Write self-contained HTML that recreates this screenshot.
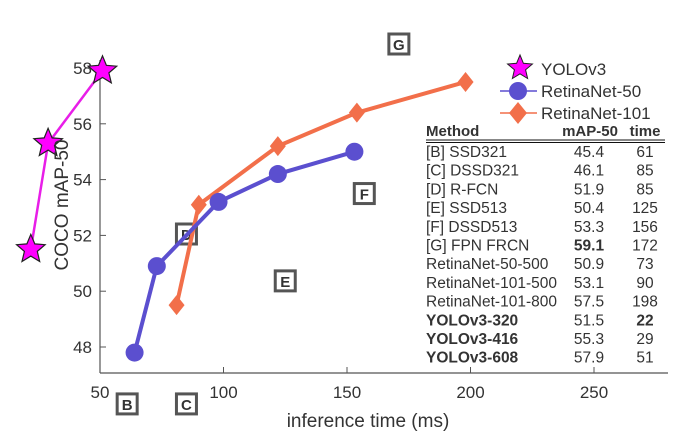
<!DOCTYPE html>
<html><head><meta charset="utf-8"><style>
body{margin:0;background:#fff;}
svg text{font-family:"Liberation Sans",sans-serif;fill:#333;}
</style></head><body>
<svg width="700" height="441">
<g id="axes"></g>
<g id="marks"></g>
<g id="table"></g>
<text transform="translate(68,205) rotate(-90)" text-anchor="middle" font-size="19">COCO mAP-50</text>
<text x="368" y="427" text-anchor="middle" font-size="19">inference time (ms)</text>
</svg>
<script>
const xTicks=[50,100,150,200,250];
const yTicks=[48,50,52,54,56,58];
const yoloX=[22,29,51], yoloY=[51.5,55.3,57.9];
const r50X=[64,73,98,122,153], r50Y=[47.8,50.9,53.2,54.2,55.0];
const r101X=[81,90,122,154,198], r101Y=[49.5,53.1,55.2,56.4,57.5];
const boxLabels=['B','C','D','E','F','G'];
const boxX=[61,85,85,125,157,171];
const boxY=[45.96,45.96,52.05,50.37,53.5,58.86];
const tMethods=['[B] SSD321','[C] DSSD321','[D] R-FCN','[E] SSD513','[F] DSSD513','[G] FPN FRCN','RetinaNet-50-500','RetinaNet-101-500','RetinaNet-101-800','YOLOv3-320','YOLOv3-416','YOLOv3-608'];
const tMap=['45.4','46.1','51.9','50.4','53.3','59.1','50.9','53.1','57.5','51.5','55.3','57.9'];
const tTime=['61','85','85','125','156','172','73','90','198','22','29','51'];
const NS='http://www.w3.org/2000/svg';
const X=v=>100+(v-50)*2.47, Y=v=>347-(v-48)*27.9;
function mk(p,t,a){const e=document.createElementNS(NS,t);for(const k in a)e.setAttribute(k,a[k]);p.appendChild(e);return e;}
const ax=document.getElementById('axes'),mk_=document.getElementById('marks'),tb=document.getElementById('table');
let l=mk(ax,'line',{x1:100,y1:60,x2:100,y2:373,stroke:'#555','stroke-width':1.2});

l=mk(ax,'line',{x1:100,y1:373,x2:668,y2:373,stroke:'#555','stroke-width':1.2});

xTicks.forEach(v=>{let t=mk(ax,'line',{x1:X(v),y1:373,x2:X(v),y2:367,stroke:'#555'});

let s=mk(ax,'text',{x:X(v),y:398,'text-anchor':'middle','font-size':17});s.textContent=v;
});
yTicks.forEach(v=>{let t=mk(ax,'line',{x1:100,y1:Y(v),x2:106,y2:Y(v),stroke:'#555'});

let s=mk(ax,'text',{x:92,y:Y(v)+6,'text-anchor':'end','font-size':17});s.textContent=v;
});
boxLabels.forEach((b,i)=>{const g=mk(mk_,'g',{});

const cx=X(boxX[i]),cy=Y(boxY[i]);
mk(g,'rect',{x:cx-10,y:cy-10,width:20,height:20,fill:'#fff',stroke:'#555','stroke-width':3});
let s=mk(g,'text',{x:cx,y:cy+6,'text-anchor':'middle','font-size':15,'font-weight':'bold',fill:'#111'});s.textContent=b;});
function star(cx,cy,R){let p=[];for(let i=0;i<10;i++){const r=i%2?R*0.45:R,a=-Math.PI/2+i*Math.PI/5;p.push((cx+r*Math.cos(a)).toFixed(1)+','+(cy+r*Math.sin(a)).toFixed(1));}return p.join(' ');}
function series(xs,ys,col,w,name,shape){const g=mk(mk_,'g',{});

mk(g,'polyline',{points:xs.map((x,i)=>X(x)+','+Y(ys[i])).join(' '),fill:'none',stroke:col,'stroke-width':w});
xs.forEach((x,i)=>{const cx=X(x),cy=Y(ys[i]);let m;
if(shape==='star')m=mk(g,'polygon',{points:star(cx,cy,15),fill:'#f0f',stroke:'#222','stroke-width':1.2});
else if(shape==='circle')m=mk(g,'circle',{cx,cy,r:9,fill:'#5b4fcf'});
else m=mk(g,'polygon',{points:`${cx},${cy-10} ${cx+8},${cy} ${cx},${cy+10} ${cx-8},${cy}`,fill:'#f26f4a'});
});}
series(r101X,r101Y,'#f26f4a',4,'retinanet-101-series','diamond');
series(r50X,r50Y,'#5b4fcf',4,'retinanet-50-series','circle');
series(yoloX,yoloY,'#e81ee8',2.5,'yolov3-series','star');
const lg=mk(tb,'g',{});
mk(lg,'polygon',{points:star(520,68,13),fill:'#f0f',stroke:'#222'});
mk(lg,'line',{x1:500,y1:91,x2:537,y2:91,stroke:'#5b4fcf','stroke-width':1.5});
mk(lg,'circle',{cx:518,cy:91,r:9,fill:'#5b4fcf'});
mk(lg,'line',{x1:500,y1:113,x2:537,y2:113,stroke:'#f26f4a','stroke-width':1.5});
mk(lg,'polygon',{points:'518,102 527,113 518,124 509,113',fill:'#f26f4a'});
['YOLOv3','RetinaNet-50','RetinaNet-101'].forEach((s,i)=>{let t=mk(lg,'text',{x:541,y:75+i*22,'font-size':17});t.textContent=s;
});
[['Method',426,'start'],['mAP-50',590,'middle'],['time',645,'middle']].forEach(h=>{let t=mk(tb,'text',{x:h[1],y:136,'text-anchor':h[2],'font-size':15,'font-weight':'bold',fill:'#111'});t.textContent=h[0];
});
mk(tb,'line',{x1:426,y1:140,x2:665,y2:140,stroke:'#111','stroke-width':1});
mk(tb,'line',{x1:426,y1:142.5,x2:665,y2:142.5,stroke:'#111','stroke-width':1});
tMethods.forEach((m,i)=>{const y=157+i*18.7,b=i>=9;
let t=mk(tb,'text',{x:426,y,'font-size':15.5,'font-weight':b?'bold':'normal',fill:'#222'});t.textContent=m;

t=mk(tb,'text',{x:589,y,'text-anchor':'middle','font-size':15.5,'font-weight':i===5?'bold':'normal',fill:'#222'});t.textContent=tMap[i];

t=mk(tb,'text',{x:645,y,'text-anchor':'middle','font-size':15.5,'font-weight':i===9?'bold':'normal',fill:'#222'});t.textContent=tTime[i];
});
</script>
</body></html>
